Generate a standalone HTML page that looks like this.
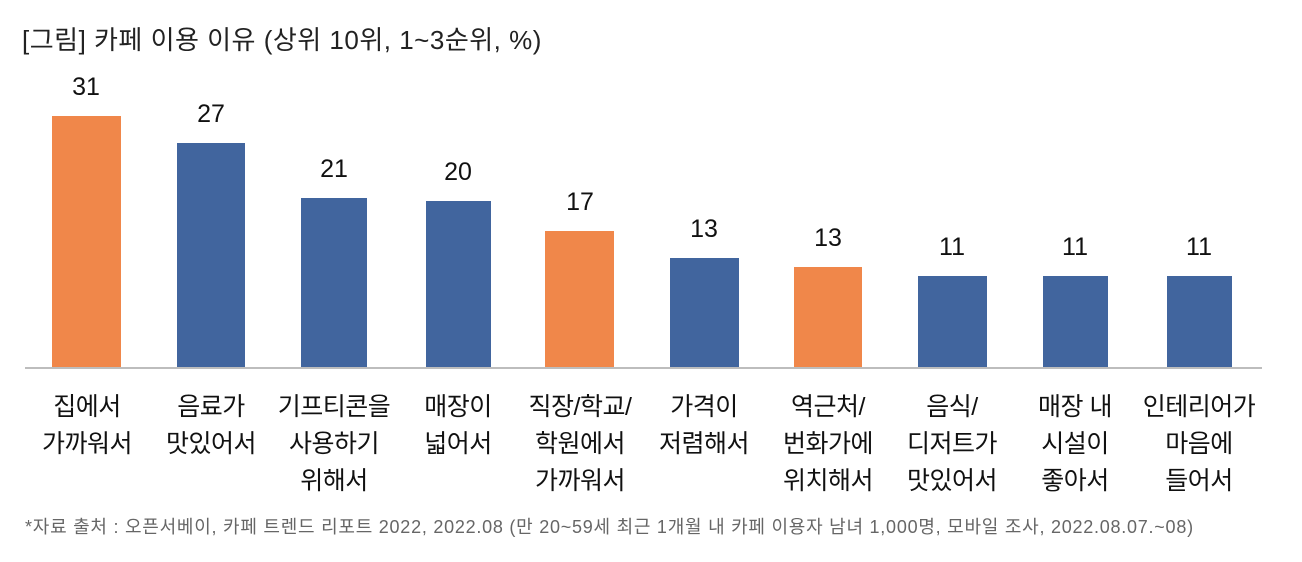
<!DOCTYPE html>
<html><head><meta charset="utf-8"><style>
body{margin:0;width:1302px;height:562px;background:#fff;font-family:"Liberation Sans","Noto Sans CJK KR",sans-serif;position:relative;overflow:hidden}
.t{position:absolute;left:22px;top:20px;font-size:26px;color:#222;white-space:nowrap;letter-spacing:0.5px}
.b{position:absolute}
.v{position:absolute;width:140px;text-align:center;font-size:25px;color:#111}
.l{position:absolute;top:389px;width:160px;text-align:center;font-size:25px;line-height:37px;color:#111;letter-spacing:-0.5px}
.ax{position:absolute;left:25px;top:367px;width:1237px;height:2px;background:#bdbdbd}
.f{position:absolute;left:25px;top:513px;font-size:18px;color:#666;white-space:nowrap;letter-spacing:0.75px}
</style></head><body>
<div class="t">[그림] 카페 이용 이유 (상위 10위, 1~3순위, %)</div>
<div class="b" style="left:52px;top:116px;width:69px;height:251px;background:#F0874A"></div>
<div class="b" style="left:177px;top:143px;width:68px;height:224px;background:#41659E"></div>
<div class="b" style="left:301px;top:198px;width:66px;height:169px;background:#41659E"></div>
<div class="b" style="left:426px;top:201px;width:65px;height:166px;background:#41659E"></div>
<div class="b" style="left:545px;top:231px;width:69px;height:136px;background:#F0874A"></div>
<div class="b" style="left:670px;top:258px;width:69px;height:109px;background:#41659E"></div>
<div class="b" style="left:794px;top:267px;width:68px;height:100px;background:#F0874A"></div>
<div class="b" style="left:918px;top:276px;width:69px;height:91px;background:#41659E"></div>
<div class="b" style="left:1043px;top:276px;width:65px;height:91px;background:#41659E"></div>
<div class="b" style="left:1167px;top:276px;width:65px;height:91px;background:#41659E"></div>
<div class="v" style="left:16px;top:73px">31</div>
<div class="v" style="left:141px;top:100px">27</div>
<div class="v" style="left:264px;top:155px">21</div>
<div class="v" style="left:388px;top:158px">20</div>
<div class="v" style="left:510px;top:188px">17</div>
<div class="v" style="left:634px;top:215px">13</div>
<div class="v" style="left:758px;top:224px">13</div>
<div class="v" style="left:882px;top:233px">11</div>
<div class="v" style="left:1005px;top:233px">11</div>
<div class="v" style="left:1129px;top:233px">11</div>
<div class="ax"></div>
<div class="l" style="left:7px">집에서<br>가까워서</div>
<div class="l" style="left:131px">음료가<br>맛있어서</div>
<div class="l" style="left:254px">기프티콘을<br>사용하기<br>위해서</div>
<div class="l" style="left:378px">매장이<br>넓어서</div>
<div class="l" style="left:500px">직장/학교/<br>학원에서<br>가까워서</div>
<div class="l" style="left:624px">가격이<br>저렴해서</div>
<div class="l" style="left:748px">역근처/<br>번화가에<br>위치해서</div>
<div class="l" style="left:872px">음식/<br>디저트가<br>맛있어서</div>
<div class="l" style="left:995px">매장 내<br>시설이<br>좋아서</div>
<div class="l" style="left:1119px">인테리어가<br>마음에<br>들어서</div>
<div class="f">*자료 출처 : 오픈서베이, 카페 트렌드 리포트 2022, 2022.08 (만 20~59세 최근 1개월 내 카페 이용자 남녀 1,000명, 모바일 조사, 2022.08.07.~08)</div>
</body></html>
